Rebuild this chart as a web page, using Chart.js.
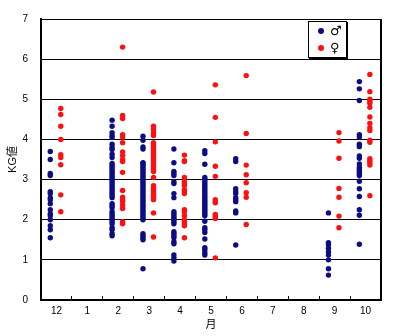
<!DOCTYPE html>
<html>
<head>
<meta charset="utf-8">
<title>KG値</title>
<script src="https://cdn.jsdelivr.net/npm/chart.js@4.4.1/dist/chart.umd.min.js"></script>
<style>
    body { margin: 0; background: #fff; }
    #wrap { position: relative; width: 400px; height: 336px; }
    #legendBox {
        position: absolute;
        left: 308px; top: 21px;
        width: 37px; height: 35px;
        background: #fff;
        border: 1px solid #000;
        box-shadow: 1px 1px 0 #000;
        font-family: "DejaVu Sans", sans-serif;
    }
    #legendBox .dot {
        position: absolute;
        width: 6px; height: 6px;
        border-radius: 50%;
    }
    #legendBox .sym {
        position: absolute;
        font-size: 13px;
        line-height: 13px;
        color: #000;
    }
</style>
</head>
<body>
<div id="wrap">
    <canvas id="kgChart" width="400" height="336"></canvas>
    <div id="legendBox">
        <span class="dot" style="left:9px; top:6px; background:#0c0c84"></span>
        <span class="sym" style="left:21px; top:2px">♂</span>
        <span class="dot" style="left:9px; top:23px; background:#ff1010"></span>
        <span class="sym" style="left:21px; top:19px">♀</span>
    </div>
</div>
<script>
const monthLabels = ["12", "1", "2", "3", "4", "5", "6", "7", "8", "9", "10"];

// ===== KG値 by month, ♂ =====
const male12 = [3.7, 3.5, 3.15, 3.1, 2.7, 2.65, 2.55, 2.5, 2.4, 2.25, 2.15, 2.1, 2.0, 1.85, 1.75, 1.55];
const male2 = [4.48, 4.33, 4.17, 4.1, 4.05, 3.88, 3.8, 3.75, 3.63, 3.55, 3.4, 3.35, 3.3, 3.25, 3.2,
    3.15, 3.1, 3.05, 3.0, 2.95, 2.9, 2.85, 2.8, 2.75, 2.7, 2.65, 2.6, 2.55, 2.4, 2.35, 2.3, 2.2,
    2.15, 2.1, 2.05, 2.0, 1.95, 1.9, 1.8, 1.75, 1.65, 1.6];
const male3 = [4.08, 3.98, 3.81, 3.76, 3.42, 3.4, 3.35, 3.3, 3.25, 3.2, 3.15, 3.1, 3.05, 3.0, 2.95,
    2.9, 2.85, 2.8, 2.75, 2.7, 2.65, 2.6, 2.55, 2.5, 2.45, 2.4, 2.35, 2.3, 2.25, 2.2, 2.15, 2.1,
    2.05, 2.0, 1.65, 1.6, 1.55, 1.5, 0.78];
const male4 = [3.76, 3.42, 3.2, 3.15, 3.1, 2.95, 2.9, 2.65, 2.55, 2.2, 2.15, 2.1, 2.05, 2.0, 1.95,
    1.9, 1.7, 1.65, 1.6, 1.55, 1.45, 1.4, 1.12, 1.05, 0.97];
const male5 = [3.72, 3.65, 3.38, 3.05, 3.0, 2.95, 2.9, 2.85, 2.8, 2.75, 2.7, 2.65, 2.6, 2.55, 2.5,
    2.45, 2.4, 2.35, 2.3, 2.25, 2.2, 2.15, 2.1, 1.96, 1.8, 1.75, 1.68, 1.52, 1.3, 1.25, 1.18, 1.12];
const male6 = [3.52, 3.45, 2.77, 2.7, 2.65, 2.55, 2.5, 2.45, 2.22, 2.17, 1.37];
const male9 = [2.17, 1.43, 1.38, 1.29, 1.2, 1.12, 1.0, 0.78, 0.62];
const male10 = [5.44, 5.26, 4.97, 4.12, 4.06, 3.88, 3.82, 3.59, 3.53, 3.39, 3.3, 3.25, 3.2, 3.15,
    3.1, 2.96, 2.77, 2.58, 2.25, 2.11, 1.39];

// ===== KG値 by month, ♀ =====
const female12 = [4.77, 4.62, 4.33, 4.0, 3.62, 3.55, 3.37, 2.62, 2.2];
const female2 = [6.3, 4.6, 4.52, 4.12, 4.06, 3.92, 3.69, 3.6, 3.5, 3.45, 3.18, 2.73, 2.56, 2.5,
    2.45, 2.36, 2.28, 1.95, 1.9];
const female3 = [5.18, 4.33, 4.25, 4.17, 4.1, 3.92, 3.85, 3.8, 3.75, 3.7, 3.65, 3.6, 3.55, 3.5,
    3.45, 3.4, 3.35, 3.3, 3.25, 3.2, 3.05, 2.85, 2.8, 2.75, 2.7, 2.65, 2.6, 2.55, 2.5, 2.17, 1.57];
const female4 = [3.61, 3.47, 3.45, 3.05, 2.95, 2.9, 2.85, 2.75, 2.7, 2.65, 2.25, 2.2, 2.1, 2.0,
    1.95, 1.9, 1.85, 1.55];
const female5 = [5.36, 4.55, 3.94, 3.33, 3.08, 2.5, 2.45, 2.42, 2.13, 2.08, 2.03, 1.05];
const female6 = [5.59, 4.15, 3.36, 3.12, 2.92, 2.67, 2.56, 1.88];
const female9 = [4.17, 3.96, 3.53, 2.78, 2.56, 2.09, 1.8];
const female10 = [5.62, 5.19, 5.0, 4.95, 4.9, 4.8, 4.56, 4.4, 4.29, 4.22, 3.98, 3.93, 3.52, 3.47,
    3.42, 3.36, 2.6];

const maleByMonth = [["12", male12], ["2", male2], ["3", male3], ["4", male4],
    ["5", male5], ["6", male6], ["9", male9], ["10", male10]];
const femaleByMonth = [["12", female12], ["2", female2], ["3", female3], ["4", female4],
    ["5", female5], ["6", female6], ["9", female9], ["10", female10]];

// ♂ sits left of the month slot, ♀ right of it
const MALE_SHIFT = -0.2;
const FEMALE_SHIFT = 0.14;

const MALE_COLOR = "#0c0c84";
const FEMALE_COLOR = "#ff1010";
const FONT_FAMILY = "'Liberation Sans', 'Noto Sans CJK JP', sans-serif";

function toPoints(byMonth, shift) {
    return byMonth.flatMap(([month, values]) =>
        values.map(v => ({ x: monthLabels.indexOf(month) + shift, y: v }))
    );
}

// right edge of the plot frame (left/bottom come from the axes)
const frameRight = {
    id: "frameRight",
    afterDraw(chart) {
        const { ctx, chartArea } = chart;
        ctx.save();
        ctx.strokeStyle = "#000";
        ctx.lineWidth = 2;
        ctx.beginPath();
        ctx.moveTo(chartArea.right, chartArea.top);
        ctx.lineTo(chartArea.right, chartArea.bottom + 1);
        ctx.stroke();
        ctx.restore();
    }
};

const ctx = document.getElementById("kgChart").getContext("2d");

new Chart(ctx, {
    type: "scatter",
    data: {
        datasets: [
            {
                label: "♂",
                data: toPoints(maleByMonth, MALE_SHIFT),
                backgroundColor: MALE_COLOR,
                borderColor: MALE_COLOR,
                borderWidth: 0,
                pointRadius: 2.7
            },
            {
                label: "♀",
                data: toPoints(femaleByMonth, FEMALE_SHIFT),
                backgroundColor: FEMALE_COLOR,
                borderColor: FEMALE_COLOR,
                borderWidth: 0,
                pointRadius: 2.7
            }
        ]
    },
    options: {
        responsive: false,
        animation: false,
        layout: { padding: { left: 0, right: 19, top: 17, bottom: 0 } },
        plugins: {
            legend: { display: false },
            tooltip: { enabled: false }
        },
        scales: {
            x: {
                type: "linear",
                min: -0.5,
                max: 10.5,
                afterBuildTicks: scale => {
                    scale.ticks = monthLabels.map((_, i) => ({ value: i }));
                },
                afterFit: scale => { scale.height = 36; },
                grid: {
                    offset: true,
                    drawOnChartArea: false,
                    drawTicks: true,
                    tickLength: -4,
                    color: "#000",
                    lineWidth: 1
                },
                border: { display: true, color: "#000", width: 2 },
                ticks: {
                    autoSkip: false,
                    maxRotation: 0,
                    padding: 9,
                    color: "#000",
                    font: { family: FONT_FAMILY, size: 10 },
                    callback: (value, index) => monthLabels[index]
                },
                title: {
                    display: true,
                    text: "月",
                    color: "#000",
                    font: { family: FONT_FAMILY, size: 11 },
                    padding: { top: 0, bottom: 4 }
                }
            },
            y: {
                min: 0,
                max: 7,
                afterFit: scale => { scale.width = 41; },
                ticks: {
                    stepSize: 1,
                    padding: 13,
                    color: "#000",
                    font: { family: FONT_FAMILY, size: 10 }
                },
                grid: {
                    color: "#000",
                    lineWidth: 1,
                    drawTicks: false
                },
                border: { display: true, color: "#000", width: 2 },
                title: {
                    display: true,
                    text: "KG値",
                    color: "#000",
                    font: { family: FONT_FAMILY, size: 11 },
                    padding: { top: 6, bottom: 0 }
                }
            }
        }
    },
    plugins: [frameRight]
});
</script>
</body>
</html>
